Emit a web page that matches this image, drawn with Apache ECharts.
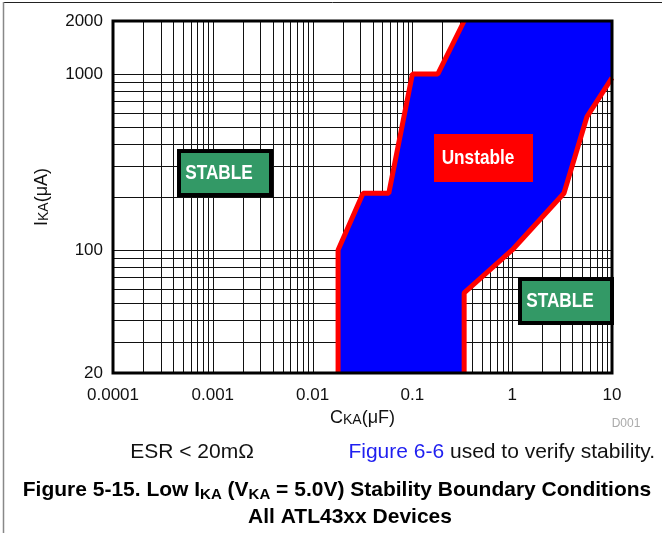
<!DOCTYPE html>
<html><head><meta charset="utf-8">
<script src="https://cdn.jsdelivr.net/npm/echarts@6/dist/echarts.min.js"></script>
<style>html,body{margin:0;padding:0;background:#fff}#c{width:662px;height:533px}</style>
</head><body><div id="c"></div>
<script>
// ---- axis ticks ----
const xTickValues = [0.0001, 0.001, 0.01, 0.1, 1, 10];
const xTickLabels = ['0.0001', '0.001', '0.01', '0.1', '1', '10'];
const yTickValues = [20, 100, 1000, 2000];
const yTickLabels = ['20', '100', '1000', '2000'];
// ---- log grid structure ----
const xDecades = [0.0001, 0.001, 0.01, 0.1, 1];
const yDecades = [10, 100, 1000];
const gridMultipliers = [1, 2, 3, 4, 5, 6, 7, 8, 9];
// ---- unstable region boundaries (C_KA in uF, I_KA in uA) ----
const leftBoundaryC = [0.018, 0.018, 0.032, 0.058, 0.1, 0.18, 0.33];
const leftBoundaryI = [20, 100, 210, 210, 1000, 1000, 2000];
const rightBoundaryC = [10, 5.6, 3.3, 1, 0.33, 0.33];
const rightBoundaryI = [950, 570, 210, 100, 57, 20];

const xMin = xTickValues[0], xMax = xTickValues[xTickValues.length - 1];
const yMin = yTickValues[0], yMax = yTickValues[yTickValues.length - 1];

function gridValues(decades, lo, hi) {
  const out = [];
  decades.forEach(d => gridMultipliers.forEach(m => {
    const v = d * m;
    if (v > lo * 1.0001 && v < hi * 0.9999) out.push(v);
  }));
  return out;
}
const xGrid = gridValues(xDecades, xMin, xMax);
const yGrid = gridValues(yDecades, yMin, yMax);

function labelFor(v, vals, labels) {
  for (let i = 0; i < vals.length; i++) {
    if (Math.abs(Math.log10(v) - Math.log10(vals[i])) < 0.005) return labels[i];
  }
  return '';
}

const FONT = '"Liberation Sans", Arial, Helvetica, sans-serif';

const chart = echarts.init(document.getElementById('c'), null, {renderer: 'canvas'});

function renderGrid(params, api) {
  const children = [];
  xGrid.forEach(v => {
    const a = api.coord([v, yMin]), b = api.coord([v, yMax]);
    const x = Math.round(a[0]) + 0.5;
    children.push({type: 'line', shape: {x1: x, y1: a[1], x2: x, y2: b[1]}, style: {stroke: '#111', lineWidth: 1}});
  });
  yGrid.forEach(v => {
    const a = api.coord([xMin, v]), b = api.coord([xMax, v]);
    const y = Math.round(a[1]) + 0.5;
    children.push({type: 'line', shape: {x1: a[0], y1: y, x2: b[0], y2: y}, style: {stroke: '#111', lineWidth: 1}});
  });
  return {type: 'group', children};
}

function renderRegion(params, api) {
  const pts = [];
  leftBoundaryC.forEach((c, i) => pts.push(api.coord([c, leftBoundaryI[i]])));
  pts.push(api.coord([xMax, yMax]));
  rightBoundaryC.forEach((c, i) => pts.push(api.coord([c, rightBoundaryI[i]])));
  return {type: 'polygon', shape: {points: pts}, style: {fill: '#0000FF'}};
}

const subRich = {
  a: {fontSize: 18, fontFamily: FONT, color: '#111', lineHeight: 21, verticalAlign: 'bottom'},
  b: {fontSize: 14, fontFamily: FONT, color: '#111', lineHeight: 18, verticalAlign: 'bottom'}
};

chart.setOption({
  animation: false,
  grid: {left: 113, top: 21, width: 499, height: 352, show: false},
  xAxis: {
    type: 'log', logBase: 10, min: xMin, max: xMax,
    axisLine: {show: false}, axisTick: {show: false},
    splitLine: {show: false}, minorSplitLine: {show: false},
    axisLabel: {color: '#111', fontSize: 17, fontFamily: FONT, margin: 14,
      formatter: v => labelFor(v, xTickValues, xTickLabels)},
    name: '{a|C}{b|KA}{a|(μF)}', nameLocation: 'middle', nameGap: 25,
    nameTextStyle: {rich: subRich}
  },
  yAxis: {
    type: 'log', logBase: 10, min: yMin, max: yMax,
    axisLine: {show: false}, axisTick: {show: false},
    splitLine: {show: false}, minorSplitLine: {show: false},
    axisLabel: {color: '#111', fontSize: 17, fontFamily: FONT, margin: 10,
      formatter: v => labelFor(v, yTickValues, yTickLabels)},
    name: '{a|I}{b|KA}{a|(μA)}', nameLocation: 'middle', nameGap: 62,
    nameTextStyle: {rich: subRich}
  },
  series: [
    {type: 'custom', name: 'grid', renderItem: renderGrid, data: [[1, 100]], z: 1, silent: true},
    {type: 'custom', name: 'unstable', renderItem: renderRegion, data: [[1, 100]], z: 2, silent: true},
    {type: 'line', name: 'left boundary', data: leftBoundaryC.map((c, i) => [c, leftBoundaryI[i]]),
      symbol: 'none', lineStyle: {color: '#FF0000', width: 5}, z: 3, silent: true},
    {type: 'line', name: 'right boundary', data: rightBoundaryC.map((c, i) => [c, rightBoundaryI[i]]),
      symbol: 'none', lineStyle: {color: '#FF0000', width: 5}, z: 3, silent: true}
  ],
  graphic: [
    {type: 'line', shape: {x1: 3, y1: 2.5, x2: 662, y2: 2.5}, style: {stroke: '#222', lineWidth: 1}, z: 100},
    {type: 'line', shape: {x1: 3.5, y1: 2, x2: 3.5, y2: 533}, style: {stroke: '#888', lineWidth: 1.5}, z: 100},
    {type: 'rect', shape: {x: 113, y: 21, width: 499, height: 352}, style: {fill: 'none', stroke: '#000', lineWidth: 3}, z: 100},
    // STABLE (left)
    {type: 'rect', shape: {x: 179, y: 151, width: 92, height: 44}, style: {fill: '#339966', stroke: '#000', lineWidth: 4}, z: 90},
    {type: 'text', x: 219, y: 173, scaleX: 0.82, style: {text: 'STABLE', fill: '#fff', font: 'bold 21px ' + FONT, align: 'center', verticalAlign: 'middle'}, z: 91},
    // STABLE (right)
    {type: 'rect', shape: {x: 520, y: 279, width: 92, height: 44}, style: {fill: '#339966', stroke: '#000', lineWidth: 4}, z: 90},
    {type: 'text', x: 560, y: 301, scaleX: 0.82, style: {text: 'STABLE', fill: '#fff', font: 'bold 21px ' + FONT, align: 'center', verticalAlign: 'middle'}, z: 91},
    // Unstable
    {type: 'rect', shape: {x: 434, y: 134, width: 99, height: 48}, style: {fill: '#FF0000'}, z: 90},
    {type: 'text', x: 478, y: 158, scaleX: 0.82, style: {text: 'Unstable', fill: '#fff', font: 'bold 21px ' + FONT, align: 'center', verticalAlign: 'middle'}, z: 91},
    // D001
    {type: 'text', x: 626, y: 424, style: {text: 'D001', fill: '#aaa', font: '12px ' + FONT, align: 'center', verticalAlign: 'middle'}, z: 100},
    // notes
    {type: 'text', x: 192, y: 452, style: {text: 'ESR < 20mΩ', fill: '#111', font: '21px ' + FONT, align: 'center', verticalAlign: 'middle'}, z: 100},
    {type: 'text', x: 655, y: 452, style: {text: '{l|Figure 6-6}{n| used to verify stability.}', align: 'right', verticalAlign: 'middle',
      rich: {l: {fill: '#1f1ff0', font: '21px ' + FONT}, n: {fill: '#111', font: '21px ' + FONT}}}, z: 100},
    // caption
    {type: 'text', x: 337, y: 490, style: {text: '{m|Figure 5-15. Low I}{s|KA}{m| (V}{s|KA}{m| = 5.0V) Stability Boundary Conditions}',
      align: 'center', verticalAlign: 'middle',
      rich: {m: {fill: '#000', font: 'bold 21px ' + FONT, lineHeight: 24, verticalAlign: 'middle'},
             s: {fill: '#000', font: 'bold 15px ' + FONT, lineHeight: 15, verticalAlign: 'bottom'}}}, z: 100},
    {type: 'text', x: 350, y: 517, style: {text: 'All ATL43xx Devices', fill: '#000', font: 'bold 21px ' + FONT, align: 'center', verticalAlign: 'middle'}, z: 100}
  ]
});
</script>
</body></html>
